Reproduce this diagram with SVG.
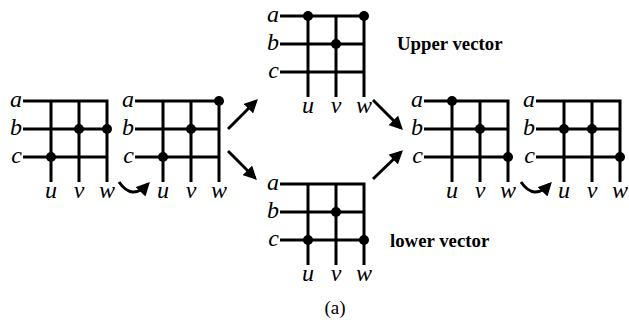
<svg xmlns="http://www.w3.org/2000/svg" width="629" height="322" viewBox="0 0 629 322">
<style>
.ln{fill:none;stroke:#000;stroke-width:3}
.lbl{font-family:'Liberation Serif','Times New Roman',serif;font-style:italic;font-size:24px;fill:#000}
.ttl{font-family:'Liberation Serif','Times New Roman',serif;font-weight:bold;font-size:18.8px;fill:#000}
.cap{font-family:'Liberation Serif','Times New Roman',serif;font-size:19px;fill:#000}
.arr{fill:none;stroke:#000;stroke-width:3}
</style>
<defs>
<marker id="ah" viewBox="0 0 10 10" refX="8" refY="5" markerWidth="4.5" markerHeight="4.5" orient="auto" markerUnits="strokeWidth">
<path d="M0,0 L10,5 L0,10 z" fill="#000"/>
</marker>
</defs>
<g id="grid1" transform="translate(23,101)">
<path class="ln" d="M0,0 H84 V81 M0,28 H84 M0,56 H84 M28,0 V81 M56,0 V81"/>
<text class="lbl" x="-1" y="6" text-anchor="end">a</text>
<text class="lbl" x="-1" y="34" text-anchor="end">b</text>
<text class="lbl" x="-1" y="62" text-anchor="end">c</text>
<text class="lbl" x="28" y="97" text-anchor="middle">u</text>
<text class="lbl" x="56" y="97" text-anchor="middle">v</text>
<text class="lbl" x="84" y="97" text-anchor="middle">w</text>
<circle cx="84" cy="28" r="5"/><circle cx="56" cy="28" r="5"/><circle cx="28" cy="56" r="5"/>
</g>
<g id="grid2" transform="translate(135,101)">
<path class="ln" d="M0,0 H84 V81 M0,28 H84 M0,56 H84 M28,0 V81 M56,0 V81"/>
<text class="lbl" x="-1" y="6" text-anchor="end">a</text>
<text class="lbl" x="-1" y="34" text-anchor="end">b</text>
<text class="lbl" x="-1" y="62" text-anchor="end">c</text>
<text class="lbl" x="28" y="97" text-anchor="middle">u</text>
<text class="lbl" x="56" y="97" text-anchor="middle">v</text>
<text class="lbl" x="84" y="97" text-anchor="middle">w</text>
<circle cx="84" cy="0" r="5"/><circle cx="56" cy="28" r="5"/><circle cx="28" cy="56" r="5"/>
</g>
<g id="upper" transform="translate(280,16)">
<path class="ln" d="M0,0 H84 V81 M0,28 H84 M0,56 H84 M28,0 V81 M56,0 V81"/>
<text class="lbl" x="-1" y="6" text-anchor="end">a</text>
<text class="lbl" x="-1" y="34" text-anchor="end">b</text>
<text class="lbl" x="-1" y="62" text-anchor="end">c</text>
<text class="lbl" x="28" y="97" text-anchor="middle">u</text>
<text class="lbl" x="56" y="97" text-anchor="middle">v</text>
<text class="lbl" x="84" y="97" text-anchor="middle">w</text>
<circle cx="28" cy="0" r="5"/><circle cx="84" cy="0" r="5"/><circle cx="56" cy="28" r="5"/>
</g>
<g id="lower" transform="translate(280,184)">
<path class="ln" d="M0,0 H84 V81 M0,28 H84 M0,56 H84 M28,0 V81 M56,0 V81"/>
<text class="lbl" x="-1" y="6" text-anchor="end">a</text>
<text class="lbl" x="-1" y="34" text-anchor="end">b</text>
<text class="lbl" x="-1" y="62" text-anchor="end">c</text>
<text class="lbl" x="28" y="97" text-anchor="middle">u</text>
<text class="lbl" x="56" y="97" text-anchor="middle">v</text>
<text class="lbl" x="84" y="97" text-anchor="middle">w</text>
<circle cx="56" cy="28" r="5"/><circle cx="28" cy="56" r="5"/><circle cx="84" cy="56" r="5"/>
</g>
<g id="grid4" transform="translate(424,101)">
<path class="ln" d="M0,0 H84 V81 M0,28 H84 M0,56 H84 M28,0 V81 M56,0 V81"/>
<text class="lbl" x="-1" y="6" text-anchor="end">a</text>
<text class="lbl" x="-1" y="34" text-anchor="end">b</text>
<text class="lbl" x="-1" y="62" text-anchor="end">c</text>
<text class="lbl" x="28" y="97" text-anchor="middle">u</text>
<text class="lbl" x="56" y="97" text-anchor="middle">v</text>
<text class="lbl" x="84" y="97" text-anchor="middle">w</text>
<circle cx="28" cy="0" r="5"/><circle cx="56" cy="28" r="5"/><circle cx="84" cy="56" r="5"/>
</g>
<g id="grid5" transform="translate(536,101)">
<path class="ln" d="M0,0 H84 V81 M0,28 H84 M0,56 H84 M28,0 V81 M56,0 V81"/>
<text class="lbl" x="-1" y="6" text-anchor="end">a</text>
<text class="lbl" x="-1" y="34" text-anchor="end">b</text>
<text class="lbl" x="-1" y="62" text-anchor="end">c</text>
<text class="lbl" x="28" y="97" text-anchor="middle">u</text>
<text class="lbl" x="56" y="97" text-anchor="middle">v</text>
<text class="lbl" x="84" y="97" text-anchor="middle">w</text>
<circle cx="28" cy="28" r="5"/><circle cx="56" cy="28" r="5"/><circle cx="84" cy="56" r="5"/>
</g>
<g id="connectors">
<path class="arr" d="M228,129 L256,101" marker-end="url(#ah)"/>
<path class="arr" d="M228,151 L255,178" marker-end="url(#ah)"/>
<path class="arr" d="M373,100 L401,128" marker-end="url(#ah)"/>
<path class="arr" d="M373,179 L401,152" marker-end="url(#ah)"/>
<path class="arr" d="M119,182 Q132,201 148,184" marker-end="url(#ah)"/>
<path class="arr" d="M521,182 Q534,201 550,184" marker-end="url(#ah)"/>
</g>
<text class="ttl" x="397" y="50">Upper vector</text>
<text class="ttl" x="390" y="247">lower vector</text>
<text class="cap" x="335" y="314" text-anchor="middle">(a)</text>
</svg>
